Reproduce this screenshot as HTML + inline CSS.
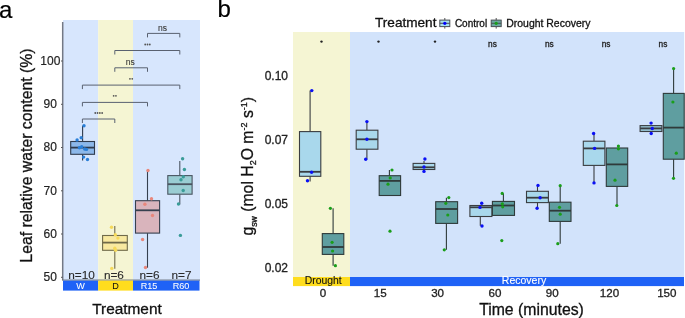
<!DOCTYPE html>
<html><head><meta charset="utf-8"><title>Figure</title><style>
html,body{margin:0;padding:0;background:#fff;width:685px;height:318px;overflow:hidden}
svg{display:block;font-family:"Liberation Sans", sans-serif;will-change:transform}
</style></head><body>
<svg width="685" height="318" viewBox="0 0 685 318">
<rect width="685" height="318" fill="#fff"/>
<text x="-0.9" y="17.5" font-size="24" fill="#000" stroke="#000" stroke-width="0.2">a</text>
<rect x="63" y="20" width="35.2" height="260" fill="#d7e6fd"/>
<rect x="98.2" y="20" width="34.8" height="260" fill="#f5f5d3"/>
<rect x="133" y="20" width="67" height="260" fill="#d7e6fd"/>
<line x1="62.7" y1="22" x2="62.7" y2="280" stroke="#737985" stroke-width="1.5"/>
<line x1="62" y1="280.1" x2="200" y2="280.1" stroke="#5f6570" stroke-width="1"/>
<line x1="61" y1="277.3" x2="62.6" y2="277.3" stroke="#555" stroke-width="1"/>
<text x="50.2" y="281.0" font-size="12" fill="#222" stroke="#222" stroke-width="0.18" text-anchor="middle">50</text>
<line x1="61" y1="234.0" x2="62.6" y2="234.0" stroke="#555" stroke-width="1"/>
<text x="50.2" y="237.7" font-size="12" fill="#222" stroke="#222" stroke-width="0.18" text-anchor="middle">60</text>
<line x1="61" y1="190.8" x2="62.6" y2="190.8" stroke="#555" stroke-width="1"/>
<text x="50.2" y="194.5" font-size="12" fill="#222" stroke="#222" stroke-width="0.18" text-anchor="middle">70</text>
<line x1="61" y1="147.5" x2="62.6" y2="147.5" stroke="#555" stroke-width="1"/>
<text x="50.2" y="151.2" font-size="12" fill="#222" stroke="#222" stroke-width="0.18" text-anchor="middle">80</text>
<line x1="61" y1="104.3" x2="62.6" y2="104.3" stroke="#555" stroke-width="1"/>
<text x="50.2" y="108.0" font-size="12" fill="#222" stroke="#222" stroke-width="0.18" text-anchor="middle">90</text>
<line x1="61" y1="61.0" x2="62.6" y2="61.0" stroke="#555" stroke-width="1"/>
<text x="50.3" y="64.7" font-size="12" fill="#222" stroke="#222" stroke-width="0.18" text-anchor="middle">100</text>
<text transform="translate(31.6,155.5) rotate(-90)" font-size="15.8" fill="#111" text-anchor="middle" stroke="#111" stroke-width="0.3">Leaf relative water content (%)</text>
<rect x="63" y="280.6" width="35.2" height="10" fill="#1f62f6"/>
<rect x="98.2" y="280.6" width="34.8" height="10" fill="#ffdd1e"/>
<rect x="133" y="280.6" width="66.5" height="10" fill="#1f62f6"/>
<text x="80.5" y="288.6" font-size="9.1" fill="#fff" stroke="#fff" stroke-width="0.06" text-anchor="middle">W</text>
<text x="115.5" y="288.6" font-size="9.1" fill="#111" stroke="#111" stroke-width="0.06" text-anchor="middle">D</text>
<text x="149.1" y="288.6" font-size="9.1" fill="#fff" stroke="#fff" stroke-width="0.06" text-anchor="middle">R15</text>
<text x="181" y="288.6" font-size="9.1" fill="#fff" stroke="#fff" stroke-width="0.06" text-anchor="middle">R60</text>
<text x="81.6" y="278.6" font-size="11.8" fill="#2a2a2a" stroke="#2a2a2a" stroke-width="0.12" text-anchor="middle">n=10</text>
<text x="113.9" y="278.6" font-size="11.8" fill="#2a2a2a" stroke="#2a2a2a" stroke-width="0.12" text-anchor="middle">n=6</text>
<text x="149.5" y="278.6" font-size="11.8" fill="#2a2a2a" stroke="#2a2a2a" stroke-width="0.12" text-anchor="middle">n=6</text>
<text x="181.5" y="278.6" font-size="11.8" fill="#2a2a2a" stroke="#2a2a2a" stroke-width="0.12" text-anchor="middle">n=7</text>
<text x="127" y="314.4" font-size="15.4" fill="#111" text-anchor="middle" stroke="#111" stroke-width="0.3">Treatment</text>
<path d="M147.5,37.4 V33.4 H179.8 V37.4" fill="none" stroke="#596170" stroke-width="1"/>
<path d="M114.8,54.5 V50.5 H179.8 V54.5" fill="none" stroke="#596170" stroke-width="1"/>
<path d="M114.8,71.8 V67.8 H147.5 V71.8" fill="none" stroke="#596170" stroke-width="1"/>
<path d="M82.4,89.1 V85.1 H179.8 V89.1" fill="none" stroke="#596170" stroke-width="1"/>
<path d="M82.4,106.4 V102.4 H147.5 V106.4" fill="none" stroke="#596170" stroke-width="1"/>
<path d="M82.4,123 V119 H114.8 V123" fill="none" stroke="#596170" stroke-width="1"/>
<text x="162.5" y="30.6" font-size="8.5" fill="#3c3c3c" stroke="#3c3c3c" stroke-width="0.12" text-anchor="middle">ns</text>
<text x="130.2" y="64.8" font-size="8.5" fill="#3c3c3c" stroke="#3c3c3c" stroke-width="0.12" text-anchor="middle">ns</text>
<circle cx="145.20" cy="44.5" r="0.9" fill="#555"/>
<circle cx="147.50" cy="44.5" r="0.9" fill="#555"/>
<circle cx="149.80" cy="44.5" r="0.9" fill="#555"/>
<circle cx="129.95" cy="78.8" r="0.9" fill="#555"/>
<circle cx="132.25" cy="78.8" r="0.9" fill="#555"/>
<circle cx="113.65" cy="95.8" r="0.9" fill="#555"/>
<circle cx="115.95" cy="95.8" r="0.9" fill="#555"/>
<circle cx="95.25" cy="113" r="0.9" fill="#555"/>
<circle cx="97.55" cy="113" r="0.9" fill="#555"/>
<circle cx="99.85" cy="113" r="0.9" fill="#555"/>
<circle cx="102.15" cy="113" r="0.9" fill="#555"/>
<line x1="82.6" y1="125.8" x2="82.6" y2="141.5" stroke="#2f3b4d" stroke-width="1.1"/>
<line x1="82.6" y1="154.3" x2="82.6" y2="160.4" stroke="#2f3b4d" stroke-width="1.1"/>
<rect x="70.7" y="141.5" width="23.80" height="12.80" fill="#8cb8ea" stroke="#2f3b4d" stroke-width="1.1"/>
<line x1="70.7" y1="147.6" x2="94.5" y2="147.6" stroke="#2f3b4d" stroke-width="1.8"/>
<circle cx="84" cy="125.8" r="1.7" fill="#2a7fd8"/>
<circle cx="81.2" cy="137.7" r="1.7" fill="#2a7fd8"/>
<circle cx="77.1" cy="140" r="1.7" fill="#2a7fd8"/>
<circle cx="79.4" cy="147.7" r="1.7" fill="#2a7fd8"/>
<circle cx="81.7" cy="146.7" r="1.7" fill="#2a7fd8"/>
<circle cx="84.7" cy="149" r="1.7" fill="#2a7fd8"/>
<circle cx="86.5" cy="149.4" r="1.7" fill="#2a7fd8"/>
<circle cx="83.6" cy="157.1" r="1.7" fill="#2a7fd8"/>
<circle cx="87.5" cy="159.5" r="1.7" fill="#2a7fd8"/>
<line x1="114.8" y1="226" x2="114.8" y2="235.5" stroke="#6f6a4a" stroke-width="1.1"/>
<line x1="114.8" y1="250.3" x2="114.8" y2="268.8" stroke="#6f6a4a" stroke-width="1.1"/>
<rect x="102.6" y="235.5" width="24.70" height="14.80" fill="#f8e9a0" stroke="#6f6a4a" stroke-width="1.1"/>
<line x1="102.6" y1="242.6" x2="127.3" y2="242.6" stroke="#6f6a4a" stroke-width="1.8"/>
<circle cx="111.5" cy="227.3" r="1.7" fill="#f5d95a"/>
<circle cx="115.3" cy="234.7" r="1.7" fill="#f5d95a"/>
<circle cx="117.9" cy="238.1" r="1.7" fill="#f5d95a"/>
<circle cx="114.8" cy="248.3" r="1.7" fill="#f5d95a"/>
<circle cx="115.6" cy="250.2" r="1.7" fill="#f5d95a"/>
<circle cx="111.8" cy="268.4" r="1.7" fill="#f5d95a"/>
<line x1="147.5" y1="170.5" x2="147.5" y2="200.7" stroke="#36404f" stroke-width="1.1"/>
<line x1="147.5" y1="233.1" x2="147.5" y2="267.8" stroke="#36404f" stroke-width="1.1"/>
<rect x="135.5" y="200.7" width="24.10" height="32.40" fill="#d9b4bc" stroke="#36404f" stroke-width="1.1"/>
<line x1="135.5" y1="210.3" x2="159.6" y2="210.3" stroke="#36404f" stroke-width="1.8"/>
<circle cx="148" cy="170.5" r="1.7" fill="#e8877c"/>
<circle cx="151.5" cy="198.7" r="1.7" fill="#e8877c"/>
<circle cx="144.9" cy="204.3" r="1.7" fill="#e8877c"/>
<circle cx="152.5" cy="215.5" r="1.7" fill="#e8877c"/>
<circle cx="142.6" cy="239.5" r="1.7" fill="#e8877c"/>
<circle cx="145.5" cy="267.5" r="1.7" fill="#e8877c"/>
<line x1="179.8" y1="161" x2="179.8" y2="175.6" stroke="#4a5561" stroke-width="1.1"/>
<line x1="179.8" y1="194.2" x2="179.8" y2="204.5" stroke="#4a5561" stroke-width="1.1"/>
<rect x="167.8" y="175.6" width="24.30" height="18.60" fill="#9acdd3" stroke="#4a5561" stroke-width="1.1"/>
<line x1="167.8" y1="184.2" x2="192.1" y2="184.2" stroke="#4a5561" stroke-width="1.8"/>
<circle cx="182.6" cy="158.8" r="1.7" fill="#3a9c98"/>
<circle cx="184.4" cy="169.5" r="1.7" fill="#3a9c98"/>
<circle cx="183.3" cy="176.7" r="1.7" fill="#3a9c98"/>
<circle cx="181" cy="179.7" r="1.7" fill="#3a9c98"/>
<circle cx="183.2" cy="190.5" r="1.7" fill="#3a9c98"/>
<circle cx="178.5" cy="204" r="1.7" fill="#3a9c98"/>
<circle cx="180.4" cy="235.4" r="1.7" fill="#3a9c98"/>
<text x="217.6" y="17.3" font-size="24" fill="#000" stroke="#000" stroke-width="0.2">b</text>
<rect x="293" y="32" width="57" height="245" fill="#f5f5d3"/>
<rect x="350" y="32" width="334.2" height="245" fill="#d2e3fb"/>
<rect x="293" y="277" width="57" height="9.1" fill="#ffdd1e"/>
<rect x="350" y="277" width="334" height="9.1" fill="#1f62f6"/>
<text x="323.2" y="284.1" font-size="10.4" fill="#111" stroke="#111" stroke-width="0.12" text-anchor="middle">Drought</text>
<text x="524" y="284" font-size="10.5" fill="#fff" stroke="#fff" stroke-width="0.12" text-anchor="middle">Recovery</text>
<text x="288" y="79.8" font-size="12" fill="#222" text-anchor="end" stroke="#222" stroke-width="0.3">0.10</text>
<text x="288" y="143.8" font-size="12" fill="#222" text-anchor="end" stroke="#222" stroke-width="0.3">0.07</text>
<text x="288" y="207.7" font-size="12" fill="#222" text-anchor="end" stroke="#222" stroke-width="0.3">0.05</text>
<text x="288" y="272.0" font-size="12" fill="#222" text-anchor="end" stroke="#222" stroke-width="0.3">0.02</text>
<text x="323.0" y="297.3" font-size="11.6" fill="#222" text-anchor="middle" stroke="#222" stroke-width="0.3">0</text>
<text x="380.3" y="297.3" font-size="11.6" fill="#222" text-anchor="middle" stroke="#222" stroke-width="0.3">15</text>
<text x="437.6" y="297.3" font-size="11.6" fill="#222" text-anchor="middle" stroke="#222" stroke-width="0.3">30</text>
<text x="494.9" y="297.3" font-size="11.6" fill="#222" text-anchor="middle" stroke="#222" stroke-width="0.3">60</text>
<text x="552.2" y="297.3" font-size="11.6" fill="#222" text-anchor="middle" stroke="#222" stroke-width="0.3">90</text>
<text x="609.5" y="297.3" font-size="11.6" fill="#222" text-anchor="middle" stroke="#222" stroke-width="0.3">120</text>
<text x="666.8" y="297.3" font-size="11.6" fill="#222" text-anchor="middle" stroke="#222" stroke-width="0.3">150</text>
<text x="531.5" y="314.5" font-size="15.8" fill="#111" text-anchor="middle" stroke="#111" stroke-width="0.3">Time (minutes)</text>
<text transform="translate(253.1,166.2) rotate(-90)" font-size="15.8" fill="#111" text-anchor="middle" stroke="#111" stroke-width="0.3">g<tspan font-size="8.6" dy="3.6">sw</tspan><tspan dy="-3.6"> (mol H</tspan><tspan font-size="9" dy="3">2</tspan><tspan dy="-3">O m</tspan><tspan font-size="9" dy="-6">-2</tspan><tspan dy="6"> s</tspan><tspan font-size="9" dy="-6">-1</tspan><tspan dy="6">)</tspan></text>
<text x="375" y="26.9" font-size="13.6" fill="#111" stroke="#111" stroke-width="0.3">Treatment</text>
<line x1="444.8" y1="18" x2="444.8" y2="28.6" stroke="#555" stroke-width="1"/>
<rect x="439.8" y="20.1" width="10" height="6.5" fill="#a8dff0" stroke="#4a4f55" stroke-width="1"/>
<line x1="439.8" y1="23.3" x2="449.8" y2="23.3" stroke="#4a4f55" stroke-width="1"/>
<circle cx="444.8" cy="23.3" r="1.65" fill="#0000ff"/>
<text x="454.9" y="27" font-size="10" fill="#111" stroke="#111" stroke-width="0.3">Control</text>
<line x1="496.2" y1="18" x2="496.2" y2="28.6" stroke="#555" stroke-width="1"/>
<rect x="491.2" y="20.1" width="10" height="6.5" fill="#6aa8a0" stroke="#4a4f55" stroke-width="1"/>
<line x1="491.2" y1="23.3" x2="501.2" y2="23.3" stroke="#4a4f55" stroke-width="1"/>
<circle cx="496.2" cy="23.3" r="1.65" fill="#1a9e1a"/>
<text x="506.3" y="27" font-size="10.45" fill="#111" stroke="#111" stroke-width="0.3">Drought Recovery</text>
<circle cx="321.5" cy="41.6" r="1.2" fill="#222"/>
<circle cx="378.5" cy="41.6" r="1.2" fill="#222"/>
<circle cx="435" cy="41.6" r="1.2" fill="#222"/>
<text x="492.5" y="46.5" font-size="8.3" fill="#222" text-anchor="middle" stroke="#222" stroke-width="0.3">ns</text>
<text x="549.3" y="46.5" font-size="8.3" fill="#222" text-anchor="middle" stroke="#222" stroke-width="0.3">ns</text>
<text x="606.1" y="46.5" font-size="8.3" fill="#222" text-anchor="middle" stroke="#222" stroke-width="0.3">ns</text>
<text x="662.9" y="46.5" font-size="8.3" fill="#222" text-anchor="middle" stroke="#222" stroke-width="0.3">ns</text>
<line x1="310.1" y1="90.6" x2="310.1" y2="131.6" stroke="#3a3d40" stroke-width="1.1"/>
<line x1="310.1" y1="176.3" x2="310.1" y2="181.6" stroke="#3a3d40" stroke-width="1.1"/>
<rect x="299.5" y="131.6" width="21.30" height="44.70" fill="#a9d8ec" stroke="#3a3d40" stroke-width="1.1"/>
<line x1="299.5" y1="171.8" x2="320.8" y2="171.8" stroke="#3a3d40" stroke-width="1.8"/>
<circle cx="311.8" cy="90.6" r="1.7" fill="#0a10f5"/>
<circle cx="311.6" cy="172.2" r="1.7" fill="#0a10f5"/>
<circle cx="307.5" cy="180.8" r="1.7" fill="#0a10f5"/>
<line x1="333.1" y1="208.3" x2="333.1" y2="233.6" stroke="#2f3a3a" stroke-width="1.1"/>
<line x1="333.1" y1="254.4" x2="333.1" y2="265.7" stroke="#2f3a3a" stroke-width="1.1"/>
<rect x="322.3" y="233.6" width="21.50" height="20.80" fill="#5f9ea0" stroke="#2f3a3a" stroke-width="1.1"/>
<line x1="322.3" y1="247" x2="343.8" y2="247" stroke="#2f3a3a" stroke-width="1.8"/>
<circle cx="330.4" cy="208.3" r="1.6" fill="#1a9e1a"/>
<circle cx="332.1" cy="242.3" r="1.6" fill="#1a9e1a"/>
<circle cx="332.6" cy="251" r="1.6" fill="#1a9e1a"/>
<circle cx="335.4" cy="265.7" r="1.6" fill="#1a9e1a"/>
<line x1="366.9" y1="121.6" x2="366.9" y2="130.2" stroke="#3a3d40" stroke-width="1.1"/>
<line x1="366.9" y1="149.2" x2="366.9" y2="159.3" stroke="#3a3d40" stroke-width="1.1"/>
<rect x="356.2" y="130.2" width="21.70" height="19.00" fill="#a9d8ec" stroke="#3a3d40" stroke-width="1.1"/>
<line x1="356.2" y1="139.3" x2="377.9" y2="139.3" stroke="#3a3d40" stroke-width="1.8"/>
<circle cx="366.9" cy="121.6" r="1.7" fill="#0a10f5"/>
<circle cx="366.9" cy="139.3" r="1.7" fill="#0a10f5"/>
<circle cx="365.7" cy="159.3" r="1.7" fill="#0a10f5"/>
<line x1="389.4" y1="170" x2="389.4" y2="175.7" stroke="#2f3a3a" stroke-width="1.1"/>
<rect x="379.2" y="175.7" width="21.40" height="19.80" fill="#5f9ea0" stroke="#2f3a3a" stroke-width="1.1"/>
<line x1="379.2" y1="180.9" x2="400.6" y2="180.9" stroke="#2f3a3a" stroke-width="1.8"/>
<circle cx="392" cy="170" r="1.6" fill="#1a9e1a"/>
<circle cx="390.2" cy="177.9" r="1.6" fill="#1a9e1a"/>
<circle cx="388" cy="184.2" r="1.6" fill="#1a9e1a"/>
<circle cx="390" cy="231.2" r="1.6" fill="#1a9e1a"/>
<line x1="424" y1="161" x2="424" y2="163.4" stroke="#3a3d40" stroke-width="1.1"/>
<rect x="413.1" y="163.4" width="21.70" height="6.10" fill="#a9d8ec" stroke="#3a3d40" stroke-width="1.1"/>
<line x1="413.1" y1="167.3" x2="434.8" y2="167.3" stroke="#3a3d40" stroke-width="1.8"/>
<circle cx="424.9" cy="159" r="1.7" fill="#0a10f5"/>
<circle cx="424" cy="167" r="1.7" fill="#0a10f5"/>
<circle cx="424" cy="171.4" r="1.7" fill="#0a10f5"/>
<line x1="446.4" y1="197.8" x2="446.4" y2="201.7" stroke="#2f3a3a" stroke-width="1.1"/>
<line x1="446.4" y1="223.4" x2="446.4" y2="249.8" stroke="#2f3a3a" stroke-width="1.1"/>
<rect x="435.7" y="201.7" width="21.90" height="21.70" fill="#5f9ea0" stroke="#2f3a3a" stroke-width="1.1"/>
<line x1="435.7" y1="209" x2="457.6" y2="209" stroke="#2f3a3a" stroke-width="1.8"/>
<circle cx="448.8" cy="197.6" r="1.6" fill="#1a9e1a"/>
<circle cx="445.8" cy="203.3" r="1.6" fill="#1a9e1a"/>
<circle cx="447.8" cy="215" r="1.6" fill="#1a9e1a"/>
<circle cx="444.3" cy="249.8" r="1.6" fill="#1a9e1a"/>
<line x1="480.3" y1="216.5" x2="480.3" y2="225.8" stroke="#3a3d40" stroke-width="1.1"/>
<rect x="469.9" y="205.5" width="22.00" height="11.00" fill="#a9d8ec" stroke="#3a3d40" stroke-width="1.1"/>
<line x1="469.9" y1="207.3" x2="491.9" y2="207.3" stroke="#3a3d40" stroke-width="1.8"/>
<circle cx="481.7" cy="203.3" r="1.7" fill="#0a10f5"/>
<circle cx="480" cy="207.4" r="1.7" fill="#0a10f5"/>
<circle cx="482" cy="226" r="1.7" fill="#0a10f5"/>
<line x1="503.4" y1="193.4" x2="503.4" y2="201.4" stroke="#2f3a3a" stroke-width="1.1"/>
<rect x="492.4" y="201.4" width="22.10" height="14.00" fill="#5f9ea0" stroke="#2f3a3a" stroke-width="1.1"/>
<line x1="492.4" y1="205.5" x2="514.5" y2="205.5" stroke="#2f3a3a" stroke-width="1.8"/>
<circle cx="502.2" cy="193.4" r="1.6" fill="#1a9e1a"/>
<circle cx="502.3" cy="203.8" r="1.6" fill="#1a9e1a"/>
<circle cx="502.7" cy="206.8" r="1.6" fill="#1a9e1a"/>
<circle cx="501.8" cy="240.6" r="1.6" fill="#1a9e1a"/>
<line x1="537.5" y1="185.4" x2="537.5" y2="191.3" stroke="#3a3d40" stroke-width="1.1"/>
<line x1="537.5" y1="202.6" x2="537.5" y2="208.3" stroke="#3a3d40" stroke-width="1.1"/>
<rect x="526.5" y="191.3" width="21.90" height="11.30" fill="#a9d8ec" stroke="#3a3d40" stroke-width="1.1"/>
<line x1="526.5" y1="197.7" x2="548.4" y2="197.7" stroke="#3a3d40" stroke-width="1.8"/>
<circle cx="538" cy="185.4" r="1.7" fill="#0a10f5"/>
<circle cx="540.1" cy="197.7" r="1.7" fill="#0a10f5"/>
<circle cx="537.1" cy="208.3" r="1.7" fill="#0a10f5"/>
<line x1="560.2" y1="185.7" x2="560.2" y2="202.2" stroke="#2f3a3a" stroke-width="1.1"/>
<line x1="560.2" y1="221.4" x2="560.2" y2="243.7" stroke="#2f3a3a" stroke-width="1.1"/>
<rect x="549.3" y="202.2" width="21.70" height="19.20" fill="#5f9ea0" stroke="#2f3a3a" stroke-width="1.1"/>
<line x1="549.3" y1="210.7" x2="571" y2="210.7" stroke="#2f3a3a" stroke-width="1.8"/>
<circle cx="560.2" cy="185.7" r="1.6" fill="#1a9e1a"/>
<circle cx="559.5" cy="207.3" r="1.6" fill="#1a9e1a"/>
<circle cx="560.2" cy="214.2" r="1.6" fill="#1a9e1a"/>
<circle cx="557.8" cy="243.7" r="1.6" fill="#1a9e1a"/>
<line x1="594" y1="133.5" x2="594" y2="141.2" stroke="#3a3d40" stroke-width="1.1"/>
<line x1="594" y1="165.4" x2="594" y2="182.9" stroke="#3a3d40" stroke-width="1.1"/>
<rect x="583.3" y="141.2" width="21.60" height="24.20" fill="#a9d8ec" stroke="#3a3d40" stroke-width="1.1"/>
<line x1="583.3" y1="148.4" x2="604.9" y2="148.4" stroke="#3a3d40" stroke-width="1.8"/>
<circle cx="593.6" cy="133.5" r="1.7" fill="#0a10f5"/>
<circle cx="594.6" cy="148.4" r="1.7" fill="#0a10f5"/>
<circle cx="594" cy="182.9" r="1.7" fill="#0a10f5"/>
<line x1="617" y1="186.4" x2="617" y2="205.5" stroke="#2f3a3a" stroke-width="1.1"/>
<rect x="606.3" y="148" width="21.40" height="38.40" fill="#5f9ea0" stroke="#2f3a3a" stroke-width="1.1"/>
<line x1="606.3" y1="164.4" x2="627.7" y2="164.4" stroke="#2f3a3a" stroke-width="1.8"/>
<circle cx="618.4" cy="146.1" r="1.6" fill="#1a9e1a"/>
<circle cx="618.4" cy="148.8" r="1.6" fill="#1a9e1a"/>
<circle cx="615" cy="180.2" r="1.6" fill="#1a9e1a"/>
<circle cx="616.8" cy="205.5" r="1.6" fill="#1a9e1a"/>
<rect x="640.1" y="125.6" width="21.80" height="5.90" fill="#98c4d4" stroke="#3a3d40" stroke-width="1.1"/>
<line x1="640.1" y1="128.4" x2="661.9" y2="128.4" stroke="#3a3d40" stroke-width="1.8"/>
<circle cx="651.1" cy="123.1" r="1.7" fill="#0a10f5"/>
<circle cx="652.3" cy="128.5" r="1.7" fill="#0a10f5"/>
<circle cx="651.2" cy="133.5" r="1.7" fill="#0a10f5"/>
<line x1="673.6" y1="68.6" x2="673.6" y2="93.4" stroke="#2f3a3a" stroke-width="1.1"/>
<line x1="673.6" y1="159.2" x2="673.6" y2="178.3" stroke="#2f3a3a" stroke-width="1.1"/>
<rect x="663.3" y="93.4" width="20.90" height="65.80" fill="#5f9ea0" stroke="#2f3a3a" stroke-width="1.1"/>
<line x1="663.3" y1="127.6" x2="684.2" y2="127.6" stroke="#2f3a3a" stroke-width="1.8"/>
<circle cx="673.6" cy="68.6" r="1.6" fill="#1a9e1a"/>
<circle cx="672.9" cy="102" r="1.6" fill="#1a9e1a"/>
<circle cx="676.3" cy="153.2" r="1.6" fill="#1a9e1a"/>
<circle cx="673.5" cy="178.3" r="1.6" fill="#1a9e1a"/>
</svg>
</body></html>
